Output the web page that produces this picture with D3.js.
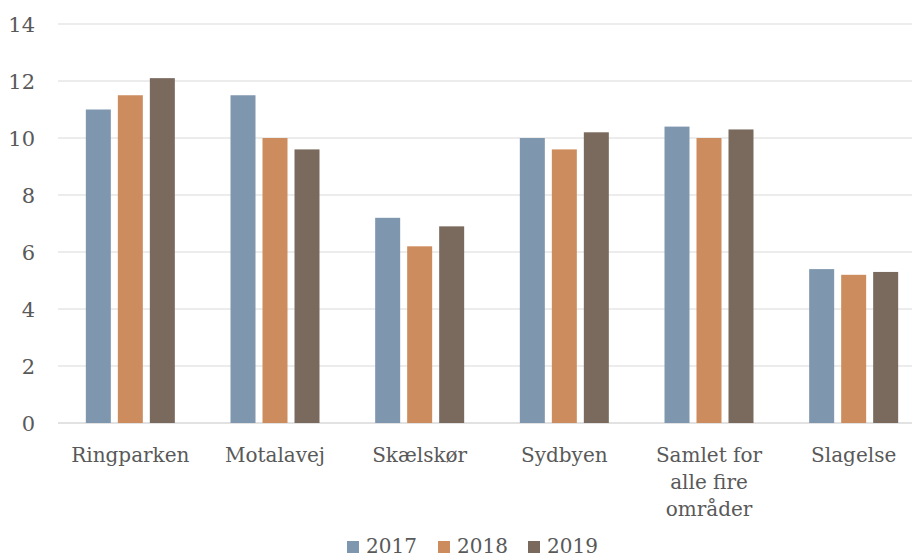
<!DOCTYPE html>
<html>
<head>
<meta charset="utf-8">
<script src="https://cdn.jsdelivr.net/npm/d3@7"></script>
<style>
  body { margin: 0; background: #fff; overflow: hidden; }
  text { font-family: "DejaVu Serif", serif; fill: #595959; }
</style>
</head>
<body>
<div id="chart"></div>
<script>
// Data
const categories = ["Ringparken", "Motalavej", "Skælskør", "Sydbyen", "Samlet for|alle fire|områder", "Slagelse"];
const years = ["2017", "2018", "2019"];
const values2017 = [11, 11.5, 7.2, 10, 10.4, 5.4];
const values2018 = [11.5, 10, 6.2, 9.6, 10, 5.2];
const values2019 = [12.1, 9.6, 6.9, 10.2, 10.3, 5.3];
const yTicks = [0, 2, 4, 6, 8, 10, 12, 14];
const colors = ["#7f97ae", "#cd8c5d", "#7a6a5e"];

const series = [values2017, values2018, values2019];
const W = 912, H = 559;
const margin = { top: 24, left: 58 };
const width = 868;   // plot runs slightly past the right edge in the reference
const height = 423 - margin.top;

const svg = d3.select("#chart").append("svg")
  .attr("width", W).attr("height", H);
const g = svg.append("g").attr("transform", `translate(${margin.left},${margin.top})`);

const x = d3.scaleBand().domain(categories).range([0, width]).paddingInner(0).paddingOuter(0);
const y = d3.scaleLinear().domain([0, 14]).range([height, 0]);

// gridlines
g.selectAll(".grid").data(yTicks).enter().append("line")
  .attr("x1", 0).attr("x2", width)
  .attr("y1", d => y(d)).attr("y2", d => y(d))
  .attr("stroke", "#d9d9d9").attr("stroke-width", d => d === 0 ? 1.5 : 1.2);

// y tick labels
g.selectAll(".ylab").data(yTicks).enter().append("text")
  .attr("x", -23).attr("y", d => y(d)).attr("dy", "0.36em")
  .attr("text-anchor", "end").style("font-size", "21px")
  .text(d => d);

// bars
const barW = 25, barGap = 7;
const groupW = 3 * barW + 2 * barGap;
series.forEach((vals, si) => {
  g.selectAll(".bar" + si).data(vals).enter().append("rect")
    .attr("x", (d, i) => x(categories[i]) + (x.bandwidth() - groupW) / 2 + si * (barW + barGap))
    .attr("y", d => y(d))
    .attr("width", barW)
    .attr("height", d => y(0) - y(d))
    .attr("fill", colors[si]);
});

// category labels
categories.forEach(c => {
  const t = g.append("text")
    .attr("x", x(c) + x.bandwidth() / 2)
    .attr("y", height + 39)
    .attr("text-anchor", "middle").style("font-size", "20px");
  c.split("|").forEach((line, li) => {
    t.append("tspan").attr("x", x(c) + x.bandwidth() / 2)
      .attr("dy", li === 0 ? 0 : 27).text(line);
  });
});

// legend
const legend = svg.append("g").attr("transform", "translate(347,553)");
const legX = [0, 91, 181];
years.forEach((yr, i) => {
  legend.append("rect").attr("x", legX[i]).attr("y", -12).attr("width", 12).attr("height", 12).attr("fill", colors[i]);
  legend.append("text").attr("x", legX[i] + 19).attr("y", 0).style("font-size", "20px").text(yr);
});
</script>
</body>
</html>
